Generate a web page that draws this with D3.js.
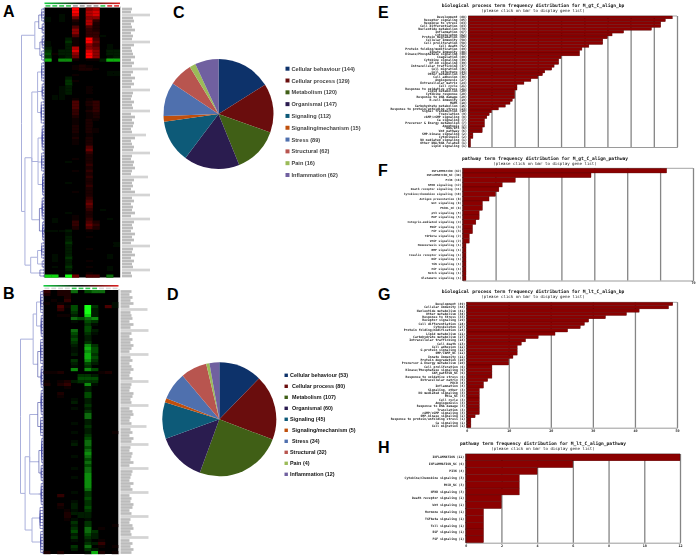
<!DOCTYPE html>
<html>
<head>
<meta charset="utf-8">
<script src="https://cdn.jsdelivr.net/npm/d3@7/dist/d3.min.js"></script>
<style>
html,body{margin:0;padding:0;background:#fff;}
svg{display:block;}
</style>
</head>
<body>
<svg id="chart" width="699" height="558"></svg>
<script>
// ---- Heatmap values: one string per row, one char per array column.
// '.' = 0, '1'..'9' = up-regulated (red), 'a'..'i' = down-regulated (green)
const heatRowsA = [
"....9.67...","....9.78...","..a.8.78...","a.a.5.66...","a.a.2.73...","....1.72...",
"....4.42...","....6.32...","....6.33...","....4.33a..","...b1.94...","a..c1.95...",
"a..b1.64.a.","b..b7.65.a.","c.bb8.86.bb","d1bb6.96.bb","c.ab5.96.ab","g.ff1.11bgg",
"...........","....121....","....1221...",".........aa","....1....aa","...b.......",
"...c1......","...c.......","..ab..1....","..ab..1....","..ab..1....",".aa........",
".aa.1.1....","....4.23...","....4.23...","....4.13...","....3.23...","....3.12...",
"....2.12...","....1.21...","....1.2....","....2.2....","....2.21...","....2.21...",
"....1.1....","....2.2....","....1.2....","....1.2....","......4....","......5....",
"......3....","......2....","....1.2....","...a..2....","......3....","......2....",
"....1.3....","......2....","......3....","......2....","...a..2....","......3....",
"......2....","....1.2....","......2....","......3....","......4....","......5....",
"......4....","......3.a..","...a..2....","....1.2....",".a..1.3..a.",".a..3.42...",
"....3.53...","....2.42...","aaab..1....","...a.......","...b..1....","...b.......",
"...c......a","...b......a","...b..1....","...b.......",".a.b.....a.",".a.c.....a.",
".a.b..1....","...b.......",".a.c..1..a.","...b.....a.","...a..1....","hh.i5.44.e."
];
const heatRowsB = [
"3.22e.dee..","2.22.......","...2.......",".1.3.......","1.1.......a","..41d.ic.4a",
"..3.d.ib...","....c.ib...","..11b.hb...","....edef...","....a.dc...","......ca...",
"......d....","....e.db...","....d.ca...","....c.b....","....d.b....","....c.c....",
"....b.fc...","....a.gd...","....a.fd...","....b.gc...","......gd...","....c.fc...",
"....b.db...","....a.c....","....f.fd...","112.....12.",".....ccb...",".....ddd...",
"1.12bccc...","2.23..fa...","...1..b....","......b....","..2...d....","..1...d....",
"....a.b....","....b.b....","......c....","....a.b....","......c....","......e....",
"......e....","......b....","....a.b....","......c....","......b....","....a.b...1",
"......c....","......d....","....a.e....","....b.e....","......d....","......e....",
"......f....","....a.e....","......d....","......e....","......d....","....a.e....",
"......e....","......f....","....a.f....","......f....","......f....","......f....",
"......e....","....a.c....","..3...c....","......d....","....a.c....","..2.b.c....",
"..1.b.d....","...1a.c....","...2bbb....","...2.bb....","...1a.a....","....c.c....",
"....b.c...1","....c.e.1..","....d.ec...","....b.db...","....c.cb...","....a.b.1..",
"......cb3..","....c.e.1.1","....b.cb...","2.2...ag2.1"
];
// Widths of the (illegible) gene-name labels to the right of each heatmap
const labelWidthsA = [10,9,28,11,12,9,10,13,9,11,10,28,12,9,10,11,13,9,12,10,26,11,9,13,10,12,9,28,11,10,9,12,10,11,28,9,13,10,12,11,9,10,24,13,9,10,12,11,28,10,9,12,11,13,10,9,26,12,10,11,9,13,28,10,12,9,11,10,13,9,28,12,10,11,9,13,10,12,9,28,11,10,13,9,12,10,11,28,9,10];
const labelWidthsB = [11,9,12,10,13,9,27,10,11,12,9,13,10,28,11,9,12,10,13,11,9,28,10,12,9,11,13,10,9,12,28,11,10,9,13,12,10,11,28,9,12,13,10,9,11,26,10,12,9,13,11,28,10,9,12,11,10,13,9,28,12,11,10,9,13,10,12,28,9,11,10,13,12,9,11,28,10,9,12,13,10,11,28,9,12,10,13,11];
// Dendrogram merge distances: [distance, child, child...]; a plain number is a run of small leaf clades
const treeA = [1,[0.42,[0.25,[0.12,5],[0.1,4]],[0.2,[0.1,5],[0.12,4]]],[0.85,[0.55,[0.3,[0.12,7],[0.1,6],[0.14,8]],[0.28,[0.1,9],[0.12,7],[0.08,8]],[0.22,[0.1,8],[0.08,7]]],[0.6,[0.3,[0.12,6],[0.1,3]],[0.2,3]]]];
const treeB = [1,[0.45,[0.3,[0.12,8],[0.1,8]],[0.25,[0.12,9],[0.1,8]]],[0.8,[0.6,[0.25,[0.1,9],[0.12,7]],[0.2,[0.08,9],[0.1,6]],[0.22,[0.1,8]]],[0.5,[0.15,8],[0.12,8]]]];

// ---- Pie charts
const pieCategories = ["Cellular behaviour","Cellular process","Metabolism","Organismal","Signaling","Signaling/mechanism","Stress","Structural","Pain","Inflammation"];
const pieValuesC = [144,129,120,147,112,15,89,62,16,62];
const pieValuesD = [53,80,107,60,45,5,34,32,4,12];
const pieColors = ["#10316a","#6a1010","#3f5f14","#2a1a4f","#0e5a78","#c0500c","#4f6fae","#b85450","#9bbb59","#7060a0"];

// ---- Bar charts
const termsE = ["Development","Receptor signaling","Response to stress","Cell differentiation","Nucleotide metabolism","Inflammation","Cytoskeleton","Protein degradation","Cellular Immunity","Cell proliferation","Cell death","Protein folding/modification","Innate Immunity","Kinase/Phosphatase signaling","Coagulation","Cytokine signaling","NF-kB signaling","Intracellular trafficking","Cell migration","Cell structure","Other metabolism","Cell adhesion","Angiogenesis","Extracellular matrix","Cell cycle","Response to oxidative stress","Lipid metabolism","Cytokine response","Response to DNA damage","B-cell Immunity","MAPK","Carbohydrate metabolism","Response to protein/unfolding stress","Signal Transduction","Translation","cAMP/cGMP signaling","Ca signaling","Precursor & Energy metabolism","Apoptosis","DAG/IP3","Wnt pathway","SMP-kinase signaling","Cytokinesis","NO mediated signaling","Other DNA/RNA related","Lipid signaling"];
const countsE = [88,85,83,83,79,67,62,60,58,58,52,49,48,48,40,39,39,37,36,33,32,30,27,24,21,21,20,20,20,19,18,16,13,10,9,8,7,7,7,6,6,2,2,1,1,1];
const termsF = ["INFLAMMATION","INFLAMMATION_NC","PI3K","NFKB signaling","Death receptor signaling","Cytokine/chemokine signaling","Antigen presentation","Wnt signaling","PKCNL_NC","p53 signaling","MAP signaling","Integrin-mediated signaling","PDGF signaling","FGF signaling","TGFbeta signaling","VEGF signaling","Homeostasis signaling","BMP signaling","Insulin receptor signaling","NGF signaling","TGN signaling","EGF signaling","Notch signaling","Glutamate signaling"];
const countsF = [62,39,16,12,11,10,8,6,6,5,5,4,3,3,2,2,1,1,1,1,1,1,1,1];
const termsG = ["Development","Cellular Immunity","Nucleotide metabolism","Other metabolism","Response to Stress","Receptor signaling","Cell differentiation","Cytoskeleton","Protein folding/modification","Lipid metabolism","Carbohydrate metabolism","Intracellular trafficking","Cell death","Cell adhesion","G-protein signaling","SMP/cAMP_NC","Innate Immunity","Protein degradation","Precursor & Energy metabolism","Cell proliferation","Kinase/Phosphatase signaling","CAM_pathTGN_NC","Response to oxidative stress","Extracellular matrix","PKCB","Inflammation","Signaling, other","NO mediated signaling","PKCa_NC","Cell cycle","Angiogenesis","Response to DNA damage","Translation","cAMP/cGMP signaling","SMP-kinase signaling","Response to protein/unfolding stress","Ca signaling","Cell migration"];
const countsG = [49,48,41,38,33,29,28,27,24,21,17,14,13,12,12,12,11,10,10,6,6,6,6,5,4,4,3,3,3,3,3,3,3,3,2,1,1,1];
const termsH = ["INFLAMMATION","INFLAMMATION_NC","PI3K","Cytokine/Chemokine signaling","PKCB_NC","NFKB signaling","Death receptor signaling","Wnt signaling","Hormone signaling","TGFbeta signaling","Toll signaling","EGF signaling","FGF signaling"];
const countsH = [12,6,4,3,3,3,2,2,1,1,1,1,1];
const subtitle = "(please click on bar to display gene list)";

// ---- Drawing
const svg = d3.select("#chart");
const defs = svg.append("defs");
const soft = defs.append("filter").attr("id","soft").attr("x","-5%").attr("y","-5%").attr("width","110%").attr("height","110%");
soft.append("feGaussianBlur").attr("stdDeviation",0.55);
const softText = defs.append("filter").attr("id","softText").attr("x","-5%").attr("y","-20%").attr("width","110%").attr("height","140%");
softText.append("feGaussianBlur").attr("stdDeviation",0.25);
const grad = defs.append("linearGradient").attr("id","gyr");
[["0%","#12d040"],["50%","#111"],["100%","#e02020"]].forEach(s=>grad.append("stop").attr("offset",s[0]).attr("stop-color",s[1]));

const heatLevel = d3.scalePow().exponent(1.5).domain([0,9]).range([0,1]);
const redRamp = d3.interpolateRgb("#000","#ff0000");
const greenRamp = d3.interpolateRgb("#000","#14ff14");
const heatColor = v => v>0 ? redRamp(heatLevel(v)) : greenRamp(heatLevel(-v));
function parseCell(ch){
  if(ch===".") return 0;
  if(ch>="1"&&ch<="9") return +ch;
  return -(ch.charCodeAt(0)-96);
}
function buildNode(spec){
  const kids=[];
  spec.slice(1).forEach(c=>{
    if(typeof c==="number"){ d3.range(c).forEach(()=>kids.push({dist:0.035,children:[{dist:0},{dist:0}]})); }
    else kids.push(buildNode(c));
  });
  return {dist:spec[0],children:kids};
}
function heatmap(cfg){
  const g=svg.append("g").attr("filter","url(#soft)");
  const rows=cfg.rows.map(r=>Array.from(r,parseCell));
  const x=d3.scaleBand().domain(d3.range(11)).range([cfg.x0,cfg.x1]);
  const y=d3.scaleBand().domain(d3.range(rows.length)).range([cfg.y0,cfg.y1]);
  g.append("rect").attr("x",cfg.x0).attr("y",cfg.y0).attr("width",cfg.x1-cfg.x0).attr("height",cfg.y1-cfg.y0).attr("fill","#000");
  g.selectAll("g.hr").data(rows).join("g").attr("class","hr")
    .selectAll("rect").data((r,i)=>r.map((v,j)=>({v,i,j})).filter(d=>d.v!==0)).join("rect")
    .attr("x",d=>x(d.j)).attr("y",d=>y(d.i)).attr("width",x.bandwidth()+0.3).attr("height",y.bandwidth()+0.2)
    .attr("fill",d=>heatColor(d.v));
  // colour key bar on top
  g.append("rect").attr("x",cfg.x0).attr("y",cfg.y0-5).attr("width",cfg.x1-cfg.x0).attr("height",1.6).attr("fill","url(#gyr)");
  g.selectAll("rect.smp").data(cfg.sample).join("rect").attr("class","smp")
    .attr("x",(d,i)=>x(i)+1).attr("y",cfg.y0-2.4).attr("width",x.bandwidth()-2).attr("height",1.6).attr("fill",d=>d);
  // border and gene labels
  g.append("line").attr("x1",cfg.x1+0.5).attr("x2",cfg.x1+0.5).attr("y1",cfg.y0-1).attr("y2",cfg.y1).attr("stroke","#c8c8c8").attr("stroke-width",1);
  g.selectAll("line.gl").data(cfg.widths).join("line").attr("class","gl")
    .attr("x1",cfg.x1+2).attr("x2",d=>cfg.x1+2+d)
    .attr("y1",(d,i)=>y(i)+y.bandwidth()/2).attr("y2",(d,i)=>y(i)+y.bandwidth()/2)
    .attr("stroke",d=>d>20?"#d4d4d4":"#bcbcbc").attr("stroke-width",2.7);
  // dendrogram
  const root=d3.hierarchy(buildNode(cfg.tree));
  d3.cluster().size([cfg.y1-cfg.y0,1]).separation(()=>1)(root);
  const dx=d3.scaleLinear().domain([0,1]).range([cfg.x0,cfg.dendroX]);
  const t=g.append("g").attr("transform",`translate(0,${cfg.y0})`).attr("fill","none");
  t.selectAll("path").data(root.links()).join("path")
    .attr("d",l=>`M${dx(l.source.data.dist)},${l.source.x}V${l.target.x}H${dx(l.target.data.dist)}`)
    .attr("stroke",l=>l.source.data.dist>0.27?"#aab0dc":"#3a3f9e")
    .attr("stroke-width",l=>l.source.data.dist>0.27?1:0.6);
}
heatmap({rows:heatRowsA,widths:labelWidthsA,tree:treeA,x0:44.5,x1:120,y0:7.5,y1:277.5,dendroX:21.5,
  sample:["#30c850","#30c850","#30c850","#30c850","#9a9a9a","#9a9a9a","#9a9a9a","#9a9a9a","#30c850","#e03030","#e03030"]});
heatmap({rows:heatRowsB,widths:labelWidthsB,tree:treeB,x0:43.5,x1:118.5,y0:290,y1:554,dendroX:20.5,
  sample:["#d8d8d8","#d8d8d8","#d8d8d8","#d8d8d8","#30c850","#30c850","#30c850","#30c850","#d8d8d8","#d8d8d8","#d8d8d8"]});

function pieChart(cfg){
  const pie=d3.pie().sort(null)(cfg.values);
  const arc=d3.arc().innerRadius(0).outerRadius(cfg.r);
  svg.append("g").attr("transform",`translate(${cfg.cx},${cfg.cy})`).attr("filter","url(#softText)")
    .selectAll("path").data(pie).join("path").attr("d",arc).attr("fill",(d,i)=>pieColors[i]);
  const ly=d3.scalePoint().domain(d3.range(pieCategories.length)).range([cfg.ly0,cfg.ly1]);
  const lg=svg.append("g").attr("filter","url(#softText)");
  lg.selectAll("rect").data(pieCategories).join("rect")
    .attr("x",cfg.sx).attr("y",(d,i)=>ly(i)-cfg.ss/2).attr("width",cfg.ss).attr("height",cfg.ss).attr("fill",(d,i)=>pieColors[i]);
  lg.selectAll("text").data(pieCategories).join("text")
    .attr("x",(d,i)=>cfg.tx+cfg.indent[i]).attr("y",(d,i)=>ly(i)+2)
    .attr("font-family","'Liberation Sans',sans-serif").attr("font-size",cfg.fs).attr("font-weight","bold").attr("fill",cfg.fill)
    .text((d,i)=>`${d} (${cfg.values[i]})`);
}
pieChart({values:pieValuesC,cx:218.5,cy:114,r:55,ly0:68.7,ly1:175,sx:285.5,ss:4,tx:291.5,fs:5.6,fill:"#444",indent:[0,0,0,0,0,0,0,0,0,0]});
pieChart({values:pieValuesD,cx:219.3,cy:419.3,r:57,ly0:375.3,ly1:474.3,sx:284.5,ss:3.4,tx:290,fs:5.4,fill:"#111",indent:[0,2,2,2,0,2,2,0,0,0]});

function barChart(cfg){
  const g=svg.append("g").attr("filter","url(#softText)");
  const x=d3.scaleLinear().domain([0,cfg.max]).range([cfg.x0,cfg.x1]);
  const y=d3.scaleBand().domain(cfg.terms).range([cfg.y0,cfg.y1]);
  const h=cfg.y1-cfg.y0;
  const xAxis=d3.axisBottom(x).tickValues(cfg.ticks).tickSize(-h).tickPadding(1.5)
    .tickFormat(v=>cfg.tickLabels.includes(v)?v:"");
  const ax=g.append("g").attr("transform",`translate(0,${cfg.y1})`).call(xAxis);
  ax.select(".domain").attr("stroke","#555").attr("stroke-width",0.6);
  ax.selectAll(".tick line").attr("stroke","#858585").attr("stroke-width",1.3);
  ax.selectAll(".tick text").attr("font-family","'DejaVu Sans Mono',monospace").attr("font-size",3.4).attr("font-weight","bold").attr("fill","#222");
  g.append("line").attr("x1",cfg.x0).attr("x2",cfg.x1).attr("y1",cfg.y0).attr("y2",cfg.y0).attr("stroke","#666").attr("stroke-width",0.6);
  g.selectAll("rect").data(cfg.terms).join("rect")
    .attr("x",cfg.x0).attr("y",d=>y(d)).attr("width",(d,i)=>x(cfg.counts[i])-cfg.x0).attr("height",y.bandwidth())
    .attr("fill","#8b0000").attr("stroke","#4d0000").attr("stroke-width",0.35);
  const yAxis=d3.axisLeft(y).tickSize(0).tickPadding(1.5).tickFormat((d,i)=>`${d} (${cfg.counts[i]})`);
  const ay=g.append("g").attr("transform",`translate(${cfg.x0},0)`).call(yAxis);
  ay.select(".domain").attr("stroke","#333").attr("stroke-width",0.5);
  ay.selectAll(".tick text").attr("font-family","'DejaVu Sans Mono',monospace").attr("font-size",cfg.labelFs).attr("font-weight","bold").attr("fill","#222");
  g.append("text").attr("x",cfg.tx).attr("y",cfg.ty).attr("text-anchor","middle")
    .attr("font-family","'DejaVu Sans Mono',monospace").attr("font-size",4.6).attr("font-weight","bold").attr("fill","#111").text(cfg.title);
  g.append("text").attr("x",cfg.tx).attr("y",cfg.ty+4.8).attr("text-anchor","middle")
    .attr("font-family","'DejaVu Sans Mono',monospace").attr("font-size",4.1).attr("fill","#222").text(subtitle);
}
barChart({terms:termsE,counts:countsE,max:90,x0:468.3,x1:677,y0:16,y1:147,ticks:d3.range(0,91,10),tickLabels:[],labelFs:3.1,
  title:"biological process term frequency distribution for M_gt_C_align_bp",tx:533,ty:7});
barChart({terms:termsF,counts:countsF,max:70,x0:462.7,x1:693,y0:168.3,y1:280.5,ticks:d3.range(0,71,10),tickLabels:[70],labelFs:2.9,
  title:"pathway term frequency distribution for M_gt_C_align_pathway",tx:545,ty:160});
barChart({terms:termsG,counts:countsG,max:50,x0:466.7,x1:677,y0:302.3,y1:427.7,ticks:d3.range(0,51,10),tickLabels:d3.range(0,51,10),labelFs:3.1,
  title:"biological process term frequency distribution for M_lt_C_align_bp",tx:533,ty:293});
barChart({terms:termsH,counts:countsH,max:12,x0:465.7,x1:680,y0:454,y1:542.7,ticks:d3.range(0,13,2),tickLabels:d3.range(0,13,2),labelFs:3.1,
  title:"pathway term frequency distribution for M_lt_C_align_pathway",tx:543,ty:445});

// ---- Panel letters
const panelLetters = ["A","B","C","D","E","F","G","H"];
const letterAnchorX = [3,3,173,167,378,378,378,378];
const letterAnchorY = [17,299,18,300,18,176,300,452.5];
svg.append("g").selectAll("text").data(panelLetters).join("text")
  .attr("x",(d,i)=>letterAnchorX[i]).attr("y",(d,i)=>letterAnchorY[i])
  .attr("font-family","'Liberation Sans',sans-serif").attr("font-weight","bold").attr("font-size",16).attr("fill","#000")
  .text(d=>d);
</script>
</body>
</html>
